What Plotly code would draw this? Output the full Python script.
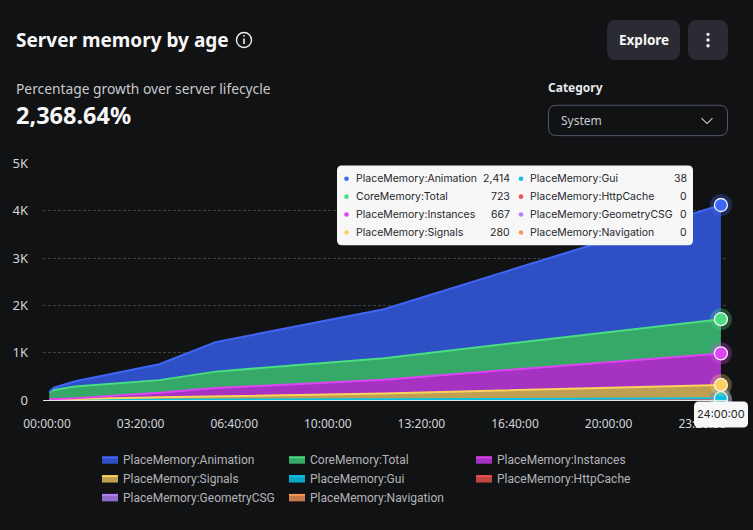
"""Server memory by age card, stacked area over server lifetime."""

import plotly.graph_objects as go

WIDTH, HEIGHT = 753, 530
ML, MR, MT, MB = 43, 25, 162.5, 129.5
BG = "#111214"
FONT = "Noto Sans"
THIN_FONT = "Roboto"
TIP_FONT = "Inter"

seconds = [300, 900, 3600, 14400, 21600, 43200, 86400]

animation = [15, 48, 110, 335, 624, 1035, 2414]
core_total = [146, 190, 250, 266, 348, 455, 723]
instances = [9, 14, 15, 98, 175, 293, 667]
signals = [4, 7, 18, 51, 69, 122, 280]
gui = [1, 1, 2, 5, 8, 15, 38]
http_cache = [0, 0, 0, 0, 0, 0, 0]
geometry_csg = [0, 0, 0, 0, 0, 0, 0]
navigation = [0, 0, 0, 0, 0, 0, 0]

names = [
    "PlaceMemory:Animation", "CoreMemory:Total", "PlaceMemory:Instances", "PlaceMemory:Signals",
    "PlaceMemory:Gui", "PlaceMemory:HttpCache", "PlaceMemory:GeometryCSG", "PlaceMemory:Navigation",
]
values = [animation, core_total, instances, signals, gui, http_cache, geometry_csg, navigation]
colors = ["#3F66F6", "#4ADE80", "#DD44F2", "#FBD25E", "#06C3E6", "#F05252", "#AE80FA", "#FB9650"]
fills = ["#2F50C4", "#36A868", "#A632C2", "#BFA052", "#0AA5C4", "#BF4444", "#8F6CCB", "#C67A4A"]

tick_seconds = [0, 12000, 24000, 36000, 48000, 60000, 72000, 84000]
tick_labels = ["00:00:00", "03:20:00", "06:40:00", "10:00:00", "13:20:00", "16:40:00", "20:00:00", "23:20:00"]
y_ticks = [0, 1000, 2000, 3000, 4000, 5000]
y_labels = ["0", "1K", "2K", "3K", "4K", "5K"]
tip_values = ["2,414", "723", "667", "280", "38", "0", "0", "0"]


def px(x):
    return (x - ML) / (WIDTH - ML - MR)


def py(y):
    return 1 - (y - MT) / (HEIGHT - MT - MB)


def rounded(x0, y0, x1, y1, r):
    return (
        f"M {px(x0 + r)} {py(y0)} L {px(x1 - r)} {py(y0)} Q {px(x1)} {py(y0)} {px(x1)} {py(y0 + r)} "
        f"L {px(x1)} {py(y1 - r)} Q {px(x1)} {py(y1)} {px(x1 - r)} {py(y1)} "
        f"L {px(x0 + r)} {py(y1)} Q {px(x0)} {py(y1)} {px(x0)} {py(y1 - r)} "
        f"L {px(x0)} {py(y0 + r)} Q {px(x0)} {py(y0)} {px(x0 + r)} {py(y0)} Z"
    )


shapes = []
annotations = []


def box(x0, y0, x1, y1, r, fill, line=None):
    shapes.append(dict(
        type="path", path=rounded(x0, y0, x1, y1, r), xref="paper", yref="paper", layer="above",
        fillcolor=fill, line=dict(color=line or fill, width=1 if line else 0),
    ))


def seg(x0, y0, x1, y1, color, width):
    shapes.append(dict(
        type="line", x0=px(x0), y0=py(y0), x1=px(x1), y1=py(y1), xref="paper", yref="paper",
        layer="above", line=dict(color=color, width=width),
    ))


def dot(x, y, r, fill, line=None, lw=0):
    shapes.append(dict(
        type="circle", x0=px(x - r), y0=py(y - r), x1=px(x + r), y1=py(y + r), xref="paper", yref="paper",
        layer="above", fillcolor=fill, line=dict(color=line or fill, width=lw),
    ))


def label(x, y, text, size, color, anchor="left", family=FONT):
    # annotations carry a couple of px of padding, take it back out
    shift = {"left": -2, "right": 2, "center": 0}[anchor]
    annotations.append(dict(
        x=px(x), y=py(y), xref="paper", yref="paper", text=text, showarrow=False, xanchor=anchor,
        yanchor="middle", xshift=shift, font=dict(family=family, size=size, color=color),
    ))


fig = go.Figure()

# reversed so Gui sits at the bottom of the stack and Animation on top
for name, vals, color, fill in list(zip(names, values, colors, fills))[::-1]:
    fig.add_trace(go.Scatter(
        x=seconds, y=vals, name=name, mode="lines", stackgroup="mem", fillcolor=fill,
        line=dict(color=color, width=2), showlegend=False, hoverinfo="skip",
    ))

# hover markers on the last sample
top = 0
for name, vals, color in list(zip(names, values, colors))[::-1]:
    top += vals[-1]
    fig.add_trace(go.Scatter(
        x=[seconds[-1]], y=[top], mode="markers", showlegend=False, hoverinfo="skip", cliponaxis=False,
        marker=dict(size=22, color=color, opacity=0.3),
    ))
    fig.add_trace(go.Scatter(
        x=[seconds[-1]], y=[top], mode="markers", showlegend=False, hoverinfo="skip", cliponaxis=False,
        marker=dict(size=13, color=color, line=dict(color="#F4F4F6", width=1.3)),
    ))

# header
label(16, 38.5, "<b>Server memory by age</b>", 19, "#F7F7F8")
dot(244, 39, 7.5, "rgba(0,0,0,0)", "#F0F0F0", 1.4)
seg(244, 37.5, 244, 43, "#F0F0F0", 1.6)
dot(244, 34.8, 0.9, "#F0F0F0")
box(607, 19, 680, 59, 9, "#2A2B33")
label(643.5, 39, "<b>Explore</b>", 13.5, "#F7F7F8", "center")
box(688, 19, 728, 59, 9, "#2A2B33")
for y in (33.3, 39, 44.7):
    dot(708, y, 1.7, "#F7F7F8")
label(16, 88, "Percentage growth over server lifecycle", 13.8, "#C9C9CC")
label(16, 114, "<b>2,368.64%</b>", 23.5, "#F7F7F8")
label(548, 87, "<b>Category</b>", 12, "#E8E8EA")
box(548.5, 104.5, 727.5, 135, 8, BG, "#55566A")
label(561, 120, "System", 12, "#C9C9CC")
seg(701.5, 117.5, 707, 123, "#C9C9CC", 1.1)
seg(707, 123, 712.5, 117.5, "#C9C9CC", 1.1)

# hover tooltip
box(337, 165, 693, 245, 5, "#F7F7F8")
for i, (name, color, val) in enumerate(zip(names, colors, tip_values)):
    col, row = i // 4, i % 4
    y = 178.3 + row * 18
    x_dot, x_text, x_val = (346.5, 355.5, 510) if col == 0 else (521, 530, 687)
    dot(x_dot, y, 2.3, color)
    label(x_text, y, name, 10.5, "#26272B", family=TIP_FONT)
    label(x_val, y, val, 10.5, "#26272B", "right", family=TIP_FONT)

box(694, 402, 748, 428, 5, "#F7F7F8")
label(721, 415, "24:00:00", 11, "#26272B", "center", family=TIP_FONT)

# legend
for i, (name, color, fill) in enumerate(zip(names, colors, fills)):
    row, col = i // 3, i % 3
    x = 102 + col * 187
    y = 461 + row * 18.9
    shapes.append(dict(
        type="rect", x0=px(x), x1=px(x + 16), y0=py(y - 3), y1=py(y + 3.5), xref="paper", yref="paper",
        layer="above", fillcolor=fill, line=dict(width=0),
    ))
    seg(x, y - 3, x + 16, y - 3, color, 2)
    label(x + 21, y, name, 12, "#B4B4B8", family=THIN_FONT)

fig.update_layout(
    width=WIDTH, height=HEIGHT,
    margin=dict(l=ML, r=MR, t=MT, b=MB, pad=0, autoexpand=False),
    paper_bgcolor=BG, plot_bgcolor=BG,
    font=dict(family=FONT, size=12, color="#D4D4D8"),
    showlegend=False,
    shapes=shapes, annotations=annotations,
    xaxis=dict(
        range=[-513, 87308], tickvals=tick_seconds, ticktext=tick_labels, showgrid=False, zeroline=False,
        showline=True, linecolor="#E6E6E6", linewidth=1, ticks="", ticklabelstandoff=13,
        tickfont=dict(family=FONT, size=12, color="#D4D4D8"),
    ),
    yaxis=dict(
        range=[0, 5010], tickvals=y_ticks, ticktext=y_labels, showgrid=True,
        gridcolor="rgba(255,255,255,0.2)", griddash="3px,2px", gridwidth=1, zeroline=False, ticks="",
        ticklabelstandoff=14, tickfont=dict(family=FONT, size=13, color="#D4D4D8"),
    ),
)

fig.write_html(
    "out.html", config=dict(displayModeBar=False),
    post_script="document.body.style.margin='0';document.body.style.background='#111214';",
)
